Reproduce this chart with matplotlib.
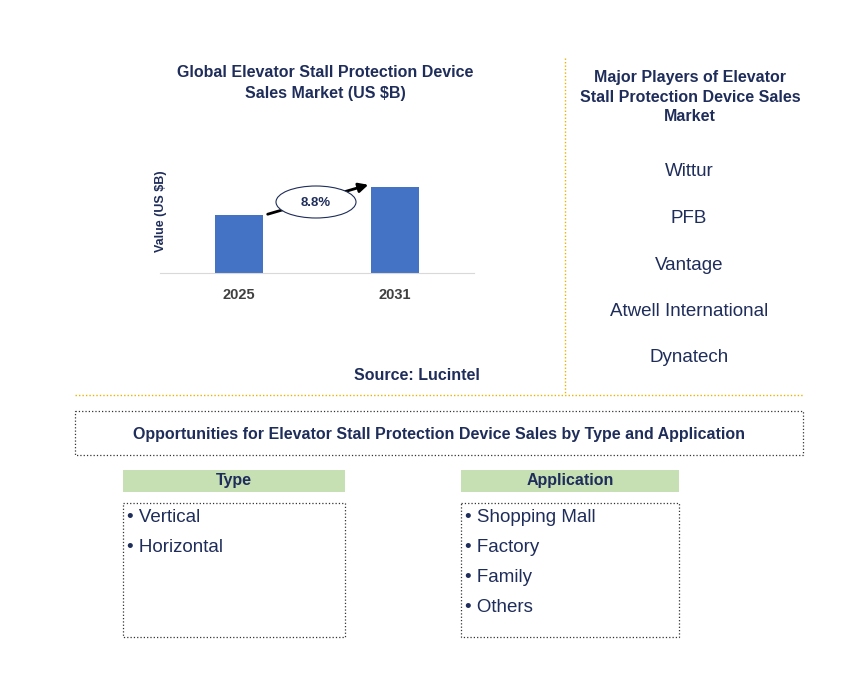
import matplotlib.pyplot as plt
from matplotlib.patches import Ellipse, Rectangle

plt.rcParams["font.family"] = "Liberation Sans"

years = ["2025", "2031"]
values = [1.0, 1.48]
cagr_label = "8.8%"
players = ["Wittur", "PFB", "Vantage", "Atwell International", "Dynatech"]
types = ["Vertical", "Horizontal"]
applications = ["Shopping Mall", "Factory", "Family", "Others"]

NAVY = "#1F2D5A"
W, H = 868, 678

fig = plt.figure(figsize=(W / 100, H / 100), dpi=100)

# bar chart axes
ax_l, ax_r, ax_b, ax_t = 160, 474, 273, 150
ax = fig.add_axes([ax_l / W, 1 - ax_b / H, (ax_r - ax_l) / W, (ax_b - ax_t) / H])
ax.bar(range(len(years)), values, width=0.31, color="#4472C4")
ax.set_xlim(-0.506, 1.506)
ax.set_ylim(0, 2.12)
ax.set_xticks(range(len(years)))
ax.set_xticklabels(years, fontsize=10.5, fontweight="bold", color="#404040")
ax.tick_params(axis="x", length=0, pad=11)
ax.set_yticks([])
for s in ["top", "right", "left"]:
    ax.spines[s].set_visible(False)
ax.spines["bottom"].set_color("#D9D9D9")
ax.set_ylabel("Value (US $B)", fontsize=9, fontweight="bold", color=NAVY)
ax.yaxis.set_label_coords(7 / (ax_r - ax_l), 0.5)
ax.patch.set_alpha(0)

# full-figure overlay in pixel coordinates (drawn above the bars)
bg = fig.add_axes([0, 0, 1, 1])
bg.set_xlim(0, W)
bg.set_ylim(H, 0)
bg.axis("off")
bg.patch.set_alpha(0)

# growth arrow and label
bg.annotate("", xy=(371, 184), xytext=(265, 215),
            arrowprops=dict(arrowstyle="-|>", color="black", lw=2, mutation_scale=14))
bg.add_patch(Ellipse((316, 202), 80, 32, facecolor="white", edgecolor=NAVY, lw=0.8, zorder=5))
bg.text(316, 203, cagr_label, ha="center", va="center", fontsize=9.5, fontweight="bold",
        color=NAVY, zorder=6)

bg.text(325, 83, "Global Elevator Stall Protection Device\nSales Market (US $B)", ha="center",
        va="center", fontsize=11.5, fontweight="bold", color=NAVY, linespacing=1.5)
bg.text(417, 375, "Source: Lucintel", ha="center", va="center", fontsize=11.5,
        fontweight="bold", color=NAVY)

# separators
bg.plot([565, 565], [58, 393], color="#E8B400", lw=1, ls=(0, (1, 1.5)))
bg.plot([75, 803], [395, 395], color="#E8B400", lw=1, ls=(0, (1, 1.5)))

# players
bg.text(690, 97, "Major Players of Elevator\nStall Protection Device Sales\nMarket", ha="center",
        va="center", fontsize=11.5, fontweight="bold", color=NAVY, linespacing=1.35)
for i, p in enumerate(players):
    bg.text(689, 172 + i * 46.5, p, ha="center", va="center", fontsize=13.5, color=NAVY)

# opportunities
bg.add_patch(Rectangle((75, 411), 728, 44, fill=False, ls=":", lw=0.9, edgecolor="#333333"))
bg.text(439, 434, "Opportunities for Elevator Stall Protection Device Sales by Type and Application",
        ha="center", va="center", fontsize=11.5, fontweight="bold", color=NAVY)

for x0, title, items in [(123, "Type", types), (461, "Application", applications)]:
    bw = 222 if title == "Type" else 218
    bg.add_patch(Rectangle((x0, 470), bw, 22, facecolor="#C6E0B4", edgecolor="none"))
    bg.text(x0 + bw / 2, 481, title, ha="center", va="center", fontsize=11.5, fontweight="bold",
            color=NAVY)
    bg.add_patch(Rectangle((x0, 503), bw, 134, fill=False, ls=":", lw=0.9, edgecolor="#333333"))
    for j, it in enumerate(items):
        bg.text(x0 + 4, 518 + j * 30, "\u2022 " + it, ha="left", va="center", fontsize=13.5,
                color=NAVY)

fig.savefig("out.png", dpi=100)
